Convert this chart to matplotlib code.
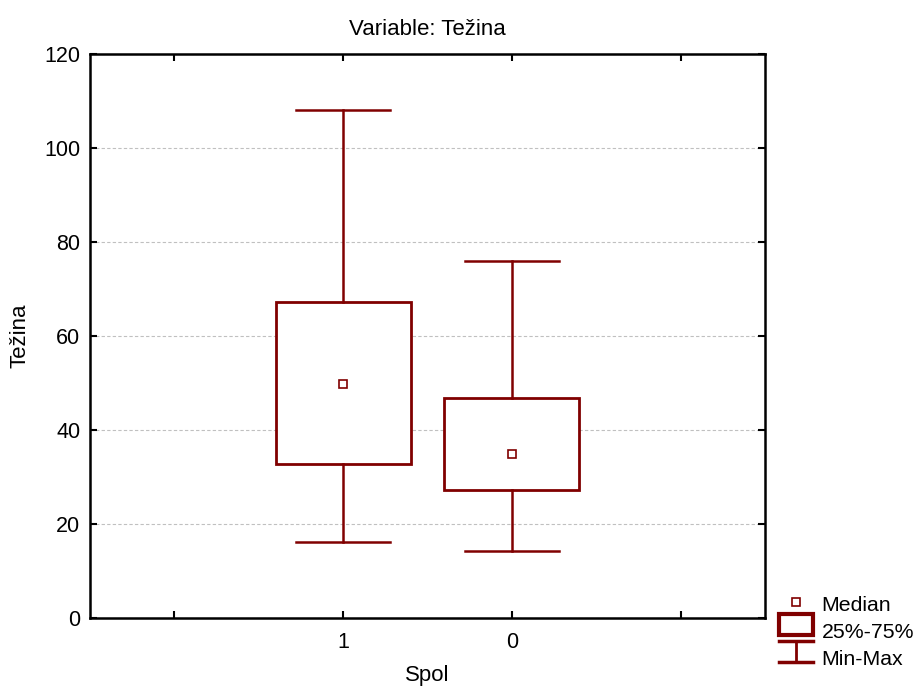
import matplotlib.pyplot as plt
from matplotlib.lines import Line2D
from matplotlib.patches import Rectangle
from matplotlib.legend_handler import HandlerBase

plt.rcParams['font.family'] = ['Liberation Sans', 'DejaVu Sans']

# data
groups = ['1', '0']
medians = [49.8, 35.0]
q1 = [32.7, 27.2]
q3 = [67.3, 46.9]
mins = [16.1, 14.2]
maxs = [108.1, 76.0]

col = '#800000'
fs = 15.5

stats = []
for g, md, a, b, lo, hi in zip(groups, medians, q1, q3, mins, maxs):
    stats.append(dict(label=g, med=md, mean=md, q1=a, q3=b, whislo=lo, whishi=hi, fliers=[]))


class MinMaxHandler(HandlerBase):
    def create_artists(self, legend, orig_handle, xd, yd, w, h, fontsize, trans):
        cx = xd + w / 2
        l1 = Line2D([xd, xd + w], [yd + h, yd + h], color=col, lw=2.5, transform=trans)
        l2 = Line2D([xd, xd + w], [yd, yd], color=col, lw=2.5, transform=trans)
        l3 = Line2D([cx, cx], [yd, yd + h], color=col, lw=2, transform=trans)
        return [l1, l2, l3]


class BoxHandler(HandlerBase):
    def create_artists(self, legend, orig_handle, xd, yd, w, h, fontsize, trans):
        r = Rectangle((xd, yd), w, h, facecolor='white', edgecolor=col, lw=3, transform=trans)
        return [r]


fig = plt.figure(figsize=(9.16, 6.91), dpi=100)
ax = fig.add_axes([0.0983, 0.1056, 0.7367, 0.8163])

ax.bxp(stats, positions=[1, 2], widths=0.8, capwidths=0.56, showmeans=True,
       showfliers=False, patch_artist=True,
       boxprops=dict(facecolor='white', edgecolor=col, linewidth=2),
       whiskerprops=dict(color=col, linewidth=1.8),
       capprops=dict(color=col, linewidth=1.8),
       medianprops=dict(linewidth=0),
       meanprops=dict(marker='s', markersize=6, markerfacecolor='white',
                      markeredgecolor=col, markeredgewidth=1.2))

ax.set_xlim(-0.5, 3.5)
ax.set_ylim(0, 120)
ax.set_xticks([0, 1, 2, 3])
ax.set_xticklabels(['', groups[0], groups[1], ''])
ax.set_yticks([0, 20, 40, 60, 80, 100, 120])
ax.tick_params(direction='in', length=5, width=1.5, top=True, right=True,
               labelsize=fs)
ax.tick_params(axis='y', pad=7)
ax.tick_params(axis='x', pad=10)
ax.yaxis.grid(True, linestyle=(0, (3, 2)), color='#c0c0c0', linewidth=0.8)
ax.set_axisbelow(True)
for s in ax.spines.values():
    s.set_linewidth(1.8)

ax.set_title('Variable: Težina', fontsize=16, pad=14)
ax.set_xlabel('Spol', fontsize=16, labelpad=9)
ax.set_ylabel('Težina', fontsize=16, labelpad=10)

med_h = Line2D([], [], marker='s', linestyle='none', markersize=6,
               markerfacecolor='white', markeredgecolor=col, markeredgewidth=1.2)
box_h = Rectangle((0, 0), 1, 1)
mm_h = Line2D([], [])
fig.legend([med_h, box_h, mm_h], ['Median', '25%-75%', 'Min-Max'],
           handler_map={Rectangle: BoxHandler(), mm_h: MinMaxHandler()},
           loc='lower left', bbox_to_anchor=(0.846, 0.025), frameon=False,
           fontsize=15.3, handlelength=1.6, handleheight=1.15, labelspacing=0.25,
           handletextpad=0.4, borderaxespad=0, borderpad=0.2)

fig.savefig('out.png', dpi=100)
